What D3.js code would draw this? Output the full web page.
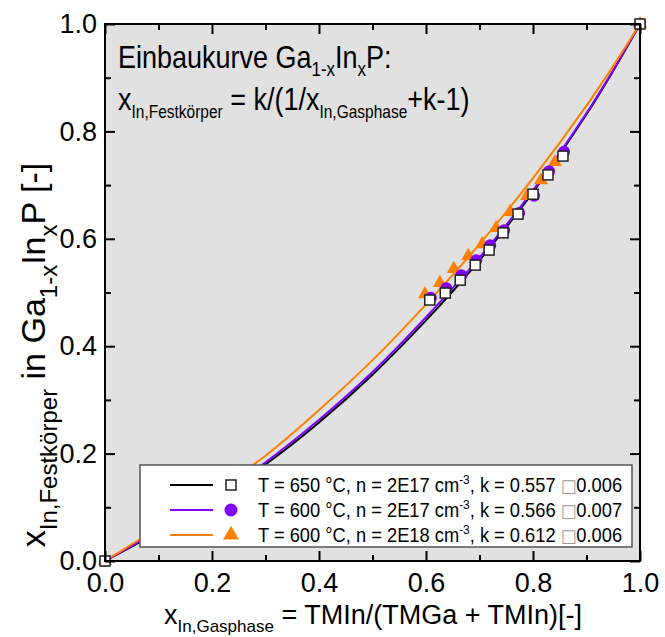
<!DOCTYPE html>
<html>
<head>
<meta charset="utf-8">
<script src="https://cdn.jsdelivr.net/npm/d3@7"></script>
<style>
  body { margin: 0; background: #fff; }
  svg { display: block; }
  text { font-family: "Liberation Sans", Arial, sans-serif; fill: #000; }
</style>
</head>
<body>
<svg id="chart" width="665" height="637"></svg>
<script>
// ---------- data ----------
const xTickValues = [0, 0.2, 0.4, 0.6, 0.8, 1.0];
const xTickLabels = ["0.0", "0.2", "0.4", "0.6", "0.8", "1.0"];
const yTickValues = [0, 0.2, 0.4, 0.6, 0.8, 1.0];
const yTickLabels = ["0.0", "0.2", "0.4", "0.6", "0.8", "1.0"];
const minorTickValues = [0.1, 0.3, 0.5, 0.7, 0.9];

const curveX      = [0, 0.05, 0.1, 0.15, 0.2, 0.3, 0.4, 0.5, 0.6, 0.7, 0.8, 0.9, 0.95, 1.0];
const curve650    = [0, 0.027, 0.055, 0.084, 0.115, 0.180, 0.258, 0.347, 0.448, 0.560, 0.687, 0.832, 0.913, 1.0];
const curve600    = [0, 0.028, 0.057, 0.086, 0.118, 0.184, 0.263, 0.352, 0.454, 0.565, 0.690, 0.834, 0.914, 1.0];
const curve600n18 = [0, 0.031, 0.062, 0.094, 0.127, 0.196, 0.281, 0.374, 0.478, 0.590, 0.713, 0.848, 0.922, 1.0];

const sqX  = [0, 0.607, 0.636, 0.664, 0.692, 0.718, 0.744, 0.772, 0.800, 0.828, 0.856, 1.0];
const sqY  = [0, 0.486, 0.499, 0.523, 0.551, 0.579, 0.611, 0.646, 0.683, 0.719, 0.754, 1.0];
const ciX  = [0, 0.609, 0.638, 0.666, 0.694, 0.720, 0.746, 0.774, 0.802, 0.830, 0.858, 1.0];
const ciY  = [0, 0.490, 0.508, 0.532, 0.560, 0.588, 0.616, 0.648, 0.680, 0.726, 0.762, 1.0];
const trX  = [0, 0.598, 0.626, 0.652, 0.679, 0.705, 0.731, 0.757, 0.789, 0.815, 0.841, 1.0];
const trY  = [0, 0.497, 0.518, 0.544, 0.568, 0.590, 0.620, 0.650, 0.680, 0.709, 0.743, 1.0];

const seriesColors = ["#000000", "#8000ff", "#ff8000"];
const legendLabels = [
  [{t: "T = 650 °C, n = 2E17 cm"}, {t: "-3", sup: true}, {t: ", k = 0.557 "}, {t: "\u25A1", box: true}, {t: "0.006"}],
  [{t: "T = 600 °C, n = 2E17 cm"}, {t: "-3", sup: true}, {t: ", k = 0.566 "}, {t: "\u25A1", box: true}, {t: "0.007"}],
  [{t: "T = 600 °C, n = 2E18 cm"}, {t: "-3", sup: true}, {t: ", k = 0.612 "}, {t: "\u25A1", box: true}, {t: "0.006"}]
];

// ---------- layout ----------
const svg = d3.select("#chart");
const L = 105, R = 640, T = 24, B = 561;
const x = d3.scaleLinear().domain([0, 1]).range([L, R]);
const y = d3.scaleLinear().domain([0, 1]).range([B, T]);

svg.append("rect").attr("x", L).attr("y", T).attr("width", R - L).attr("height", B - T)
  .attr("fill", "#e1e1e1");

function rich(textSel, segs, base, subSize, subShift) {
  let cur = 0;
  segs.forEach(s => {
    const ts = textSel.append("tspan").text(s.t);
    let target = 0, size = base;
    if (s.sub) { target = subShift; size = subSize; }
    if (s.sup) { target = -subShift; size = subSize; }
    ts.attr("font-size", size + "px").attr("dy", target - cur);
    if (s.box) ts.attr("fill", "#999").attr("font-family", "DejaVu Sans").attr("font-size", (base * 0.9) + "px");
    cur = target;
  });
}

// curves
const lineGen = d3.line().x(d => x(d[0])).y(d => y(d[1])).curve(d3.curveCatmullRom.alpha(0.5));
const curves = [curve650, curve600, curve600n18];
svg.append("clipPath").attr("id", "clip").append("rect")
  .attr("x", L).attr("y", T).attr("width", R - L).attr("height", B - T);
curves.forEach((c, i) => {
  svg.append("path").datum(curveX.map((v, j) => [v, c[j]]))
    .attr("d", lineGen).attr("fill", "none").attr("stroke", seriesColors[i])
    .attr("stroke-width", 2).attr("clip-path", "url(#clip)");
});

// markers
const triSym = d3.symbol().type(d3.symbolTriangle).size(85);
svg.append("g").selectAll("path").data(trX.map((v, i) => [v, trY[i]])).join("path")
  .attr("d", triSym).attr("transform", d => `translate(${x(d[0])},${y(d[1])})`)
  .attr("fill", seriesColors[2]);
svg.append("g").selectAll("circle").data(ciX.map((v, i) => [v, ciY[i]])).join("circle")
  .attr("cx", d => x(d[0])).attr("cy", d => y(d[1])).attr("r", 6)
  .attr("fill", seriesColors[1]);
svg.append("g").selectAll("rect").data(sqX.map((v, i) => [v, sqY[i]])).join("rect")
  .attr("x", d => x(d[0]) - 5).attr("y", d => y(d[1]) - 5).attr("width", 10).attr("height", 10)
  .attr("fill", "#fff").attr("stroke", "#222").attr("stroke-width", 1.5);

// axes
function styleAxis(g) {
  g.select(".domain").remove();
  g.selectAll(".tick line").attr("stroke", "#000").attr("stroke-width", 2);
}
const fmt = (labels, vals) => d => labels[vals.indexOf(d)];
const tickFont = g => g.selectAll("text").attr("font-size", "27px")
  .attr("font-family", "Liberation Sans, Arial, sans-serif").attr("fill", "#000");
svg.append("g").attr("transform", `translate(0,${B})`)
  .call(d3.axisBottom(x).tickValues(xTickValues).tickFormat(fmt(xTickLabels, xTickValues)).tickSize(-10).tickPadding(12))
  .call(styleAxis).call(tickFont);
svg.append("g").attr("transform", `translate(0,${B})`)
  .call(d3.axisBottom(x).tickValues(minorTickValues).tickFormat("").tickSize(-6)).call(styleAxis);
svg.append("g").attr("transform", `translate(0,${T})`)
  .call(d3.axisTop(x).tickValues(xTickValues).tickFormat("").tickSize(-10)).call(styleAxis);
svg.append("g").attr("transform", `translate(0,${T})`)
  .call(d3.axisTop(x).tickValues(minorTickValues).tickFormat("").tickSize(-6)).call(styleAxis);

svg.append("g").attr("transform", `translate(${L},0)`)
  .call(d3.axisLeft(y).tickValues(yTickValues).tickFormat(fmt(yTickLabels, yTickValues)).tickSize(-10).tickPadding(8))
  .call(styleAxis).call(tickFont);
svg.append("g").attr("transform", `translate(${L},0)`)
  .call(d3.axisLeft(y).tickValues(minorTickValues).tickFormat("").tickSize(-6)).call(styleAxis);
svg.append("g").attr("transform", `translate(${R},0)`)
  .call(d3.axisRight(y).tickValues(yTickValues).tickFormat("").tickSize(-10)).call(styleAxis);
svg.append("g").attr("transform", `translate(${R},0)`)
  .call(d3.axisRight(y).tickValues(minorTickValues).tickFormat("").tickSize(-6)).call(styleAxis);

// frame
svg.append("rect").attr("x", L).attr("y", T).attr("width", R - L).attr("height", B - T)
  .attr("fill", "none").attr("stroke", "#000").attr("stroke-width", 2);

// legend
const lg = svg.append("g");
lg.append("rect").attr("x", 140).attr("y", 465).attr("width", 492).attr("height", 82)
  .attr("fill", "#fff").attr("stroke", "#555").attr("stroke-width", 1.5);
const rowY = [485, 510, 535];
rowY.forEach((ry, i) => {
  lg.append("line").attr("x1", 170).attr("x2", 213).attr("y1", ry).attr("y2", ry)
    .attr("stroke", seriesColors[i]).attr("stroke-width", 2);
  if (i === 0) lg.append("rect").attr("x", 226).attr("y", ry - 5).attr("width", 10).attr("height", 10)
    .attr("fill", "#fff").attr("stroke", "#222").attr("stroke-width", 1.5);
  if (i === 1) lg.append("circle").attr("cx", 231).attr("cy", ry).attr("r", 6.5).attr("fill", seriesColors[1]);
  if (i === 2) lg.append("path").attr("d", d3.symbol().type(d3.symbolTriangle).size(110))
    .attr("transform", `translate(231,${ry})`).attr("fill", seriesColors[2]);
  const t = lg.append("text").attr("transform", `translate(258,${ry + 7}) scale(0.915,1)`);
  rich(t, legendLabels[i], 20, 13, 8);
});

// title inside plot
const t1 = svg.append("text").attr("transform", "translate(118,68) scale(1,1.15)");
rich(t1, [{t: "Einbaukurve Ga"}, {t: "1-x", sub: true}, {t: "In"}, {t: "x", sub: true}, {t: "P:"}], 27, 17, 7);
const t2 = svg.append("text").attr("transform", "translate(118,110) scale(1,1.15)");
rich(t2, [{t: "x"}, {t: "In,Festkörper", sub: true}, {t: " = k/(1/x"}, {t: "In,Gasphase", sub: true}, {t: "+k-1)"}], 27, 15.5, 7);

// axis titles
const xt = svg.append("text").attr("transform", "translate(373,624)").attr("text-anchor", "middle");
rich(xt, [{t: "x"}, {t: "In,Gasphase", sub: true}, {t: " = TMIn/(TMGa + TMIn)[-]"}], 27, 17, 8);

const yt = svg.append("text").attr("transform", "translate(45,355) rotate(-90)").attr("text-anchor", "middle");
rich(yt, [{t: "x"}, {t: "In,Festkörper", sub: true}, {t: " in Ga"}, {t: "1-x", sub: true}, {t: "In"}, {t: "x", sub: true}, {t: "P [-]"}], 34, 24, 12);
</script>
</body>
</html>
